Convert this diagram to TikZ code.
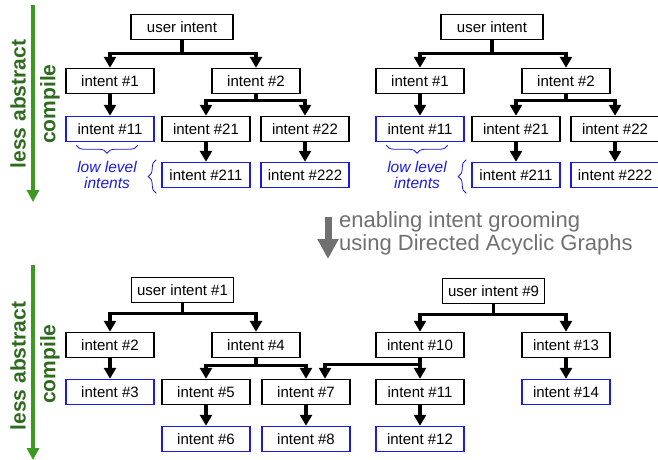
\documentclass[tikz,border=0pt]{standalone}
\usepackage{fontspec}
\setmainfont{Liberation Sans}
\usepackage{tikz}
\usetikzlibrary{arrows.meta, positioning, decorations.pathreplacing, calc}
\definecolor{leafblue}{HTML}{1A1AE6}
\definecolor{compilegreen}{HTML}{3C9A22}
\definecolor{compiletext}{HTML}{2E6B1E}
\definecolor{groomgray}{HTML}{707070}
\tikzset{
  intentbox/.style={draw=black, line width=1.5pt, minimum width=88pt, minimum height=25pt,
    inner sep=0pt, font=\fontsize{15}{17}\selectfont},
  userbox/.style={intentbox, minimum width=102pt},
  leafbox/.style={intentbox, draw=leafblue},
  flow/.style={line width=3.4pt, -{Triangle[width=12pt,length=11pt]}},
  lowbrace/.style={draw=leafblue, line width=0.8pt, decorate,
    decoration={brace, amplitude=8pt}},
  lowtext/.style={text=leafblue, align=center, font=\fontsize{15.5}{16}\selectfont\itshape},
  ladder/.style={draw=compilegreen, line width=4pt, -{Triangle[width=12pt,length=12pt]}},
  laddertext/.style={rotate=90, text=compiletext, font=\fontsize{21}{21}\selectfont\bfseries}
}
\newcommand{\intenttree}[2]{%
  \begin{scope}[shift={(#1,0)}]
    \node[userbox] (#2u) at (182,27) {user intent};
    \node[intentbox] (#2a) at (110,81) {intent \#1};
    \node[intentbox] (#2b) at (256,81) {intent \#2};
    \node[leafbox] (#2aa) at (110,129) {intent \#11};
    \node[intentbox] (#2ba) at (206,129) {intent \#21};
    \node[intentbox] (#2bb) at (305,129) {intent \#22};
    \node[leafbox] (#2baa) at (206,175) {intent \#211};
    \node[leafbox] (#2bba) at (305,175) {intent \#222};
    \draw[flow] (#2u.south) -- ++(0,13) -| (#2a);
    \draw[flow] (#2u.south) -- ++(0,13) -| (#2b);
    \draw[flow] (#2a) -- (#2aa);
    \draw[flow] (#2b.south) -- ++(0,6) -| (#2ba);
    \draw[flow] (#2b.south) -- ++(0,6) -| (#2bb);
    \draw[flow] (#2ba) -- (#2baa);
    \draw[flow] (#2bb) -- (#2bba);
    \draw[lowbrace, decoration={mirror}] ([xshift=11pt,yshift=-3pt]#2aa.south west) -- ([xshift=-17pt,yshift=-3pt]#2aa.south east);
    \draw[lowbrace] ([xshift=-5pt,yshift=-5pt]#2baa.south west) -- ([xshift=-5pt,yshift=2pt]#2baa.north west);
    \node[lowtext] (#2low) at (107,175) {low level\\intents};
  \end{scope}%
}

\begin{document}
\begin{tikzpicture}[x=1pt, y=-1pt]
    \useasboundingbox (0,0) rectangle (658,459);

    % Top: two plain intent trees
    \coordinate (ctop) at (33,5);
    \coordinate (cbot) at (33,202);
    \draw[ladder] (ctop) -- (cbot);
    \node[laddertext] (less1) at (18,104) {less abstract};
    \node[laddertext] (comp1) at (50,104) {compile};

    \intenttree{0}{l}
    \intenttree{310}{r}

    % Middle: grooming step
    \coordinate (gtop) at (328,217);
    \coordinate (gbot) at (328,259);
    \draw[groomgray, line width=7pt, -{Triangle[width=20pt,length=20pt]}] (gtop) -- (gbot);
    \node[anchor=west, align=left, inner sep=0pt, text=groomgray,
      font=\fontsize{22}{23}\selectfont] (groom) at (339,233)
      {enabling intent grooming\\using Directed Acyclic Graphs};

    % Bottom: DAG with shared intent #7
    \coordinate (dtop) at (33,265);
    \coordinate (dbot) at (33,460);
    \draw[ladder] (dtop) -- (dbot);
    \node[laddertext] (less2) at (18,366) {less abstract};
    \node[laddertext] (comp2) at (50,364) {compile};

    \node[userbox] (u1) at (182.5,290) {user intent \#1};
    \node[intentbox] (n2) at (110,345) {intent \#2};
    \node[intentbox] (n4) at (256,345) {intent \#4};
    \node[leafbox] (n3) at (110,392) {intent \#3};
    \node[intentbox] (n5) at (206,392) {intent \#5};
    \node[intentbox] (n7) at (306,392) {intent \#7};
    \node[leafbox] (n6) at (206,439) {intent \#6};
    \node[leafbox] (n8) at (306,439) {intent \#8};

    \node[userbox] (u9) at (493.5,291) {user intent \#9};
    \node[intentbox] (n10) at (420,345) {intent \#10};
    \node[intentbox] (n13) at (566,345) {intent \#13};
    \node[intentbox] (n11) at (420,392) {intent \#11};
    \node[leafbox] (n14) at (566,392) {intent \#14};
    \node[leafbox] (n12) at (420,439) {intent \#12};

    \draw[flow] (u1.south) -- ++(0,10) -| (n2);
    \draw[flow] (u1.south) -- ++(0,10) -| (n4);
    \draw[flow] (n2) -- (n3);
    \draw[flow] (n4.south) -- ++(0,7) -| (n5);
    \draw[flow] (n4.south) -- ++(0,7) -| (n7);
    \draw[flow] (n5) -- (n6);
    \draw[flow] (n7) -- (n8);

    \draw[flow] (u9.south) -- ++(0,10) -| (n10);
    \draw[flow] (u9.south) -- ++(0,10) -| (n13);
    \draw[flow] (n10) -- (n11);
    \draw[flow] (n10.south) -- ++(0,6) -| ([xshift=19pt]n7.north);
    \draw[flow] (n11) -- (n12);
    \draw[flow] (n13) -- (n14);
\end{tikzpicture}
\end{document}
